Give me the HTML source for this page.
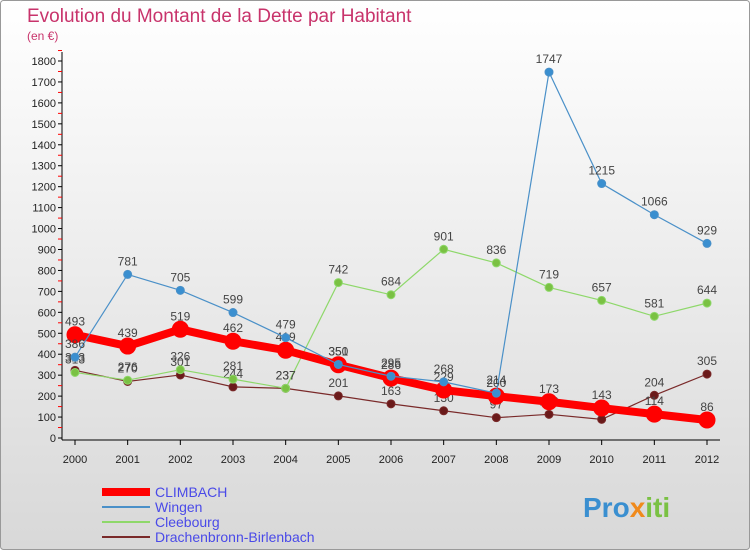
<!DOCTYPE html>
<html><head><meta charset="utf-8"><style>
body{margin:0;background:#fff}
svg{display:block;font-family:"Liberation Sans",sans-serif}
</style></head><body>
<svg id="c" width="750" height="550" viewBox="0 0 750 550">
<defs><linearGradient id="bg" x1="0" y1="0" x2="0" y2="1"><stop offset="0" stop-color="#ffffff"/><stop offset="1" stop-color="#d8d8d8"/></linearGradient></defs>
<rect x="0.5" y="0.5" width="749" height="549" fill="url(#bg)" stroke="#999" rx="3"/>
<text x="27" y="22" font-size="19" fill="#c8336b">Evolution du Montant de la Dette par Habitant</text>
<text x="27" y="40" font-size="12" fill="#c8336b">(en €)</text>
<g id="axes"></g><g id="series"></g><g id="legend"></g>
<g><text x="583" y="517" font-size="28" font-weight="bold" fill="#3a8fd0">Pro<tspan fill="#f08a1c">x</tspan><tspan fill="#7ac143">iti</tspan></text></g>
</svg>
<script>
const years=[2000,2001,2002,2003,2004,2005,2006,2007,2008,2009,2010,2011,2012];
const climbach=[493,439,519,462,419,350,286,229,200,173,143,114,86];
const wingen=[386,781,705,599,479,351,295,268,214,1747,1215,1066,929];
const cleebourg=[313,276,326,281,237,742,684,901,836,719,657,581,644];
const drachen=[323,270,301,244,237,201,163,130,97,113,89,204,305];
const yTicks=[0,100,200,300,400,500,600,700,800,900,1000,1100,1200,1300,1400,1500,1600,1700,1800];
const seriesNames=["CLIMBACH","Wingen","Cleebourg","Drachenbronn-Birlenbach"];
const NS="http://www.w3.org/2000/svg";
const x=i=>75+i*(707-75)/(years.length-1);
const y=v=>438-v*(438-61)/1800;
function mk(t,a,p){const e=document.createElementNS(NS,t);for(const k in a)e.setAttribute(k,a[k]);p.appendChild(e);return e;}
const ax=document.getElementById('axes');
const yl=mk('line',{x1:62,y1:52,x2:62,y2:440,stroke:'#000'},ax);

const xl=mk('line',{x1:62,y1:440,x2:720,y2:440,stroke:'#000'},ax);

yTicks.forEach(v=>{mk('line',{x1:58,y1:y(v),x2:62,y2:y(v),stroke:'#000'},ax);
 mk('line',{x1:58,y1:y(v+50),x2:62,y2:y(v+50),stroke:'red'},ax);
 const t=mk('text',{x:56,y:y(v)+4,'font-size':11,'text-anchor':'end',fill:'#222'},ax);t.textContent=v;
 });
years.forEach((yr,i)=>{mk('line',{x1:x(i),y1:440,x2:x(i),y2:445,stroke:'#000'},ax);
 const t=mk('text',{x:x(i),y:463,'font-size':11,'text-anchor':'middle',fill:'#222'},ax);t.textContent=yr;
 });
const sg=document.getElementById('series');
function draw(vals,color,w,r,dot,name){
 const g=mk('g',{},sg);
 mk('polyline',{points:vals.map((v,i)=>x(i)+','+y(v)).join(' '),fill:'none',stroke:color,'stroke-width':w},g);
 vals.forEach((v,i)=>{const c=mk('circle',{cx:x(i),cy:y(v),r:r,fill:dot,stroke:color,'stroke-width':1},g);
  
  const t=mk('text',{x:x(i),y:y(v)-9,'font-size':12,'text-anchor':'middle',fill:'#444'},g);t.textContent=v;
  });
}
draw(drachen,'#7a2a2a',1.2,4,'#6a1a1a','drachenbronn-series');
draw(cleebourg,'#8ed86a',1.2,4,'#7ac143','cleebourg-series');
draw(climbach,'#ff0000',8,8,'#ff0000','climbach-series');
draw(wingen,'#4a90c8',1.2,4,'#3a8fd0','wingen-series');
const lg=document.getElementById('legend');
const lc=['#ff0000','#4a90c8','#8ed86a','#7a2a2a'],lw=[8,2,2,2];
seriesNames.forEach((n,i)=>{const yy=492+i*15;
 const g=mk('g',{},lg);
 mk('line',{x1:102,y1:yy,x2:150,y2:yy,stroke:lc[i],'stroke-width':lw[i]},g);
 const t=mk('text',{x:155,y:yy+5,'font-size':14,fill:'#4a4ae8'},g);t.textContent=n;});
</script>
</body></html>
